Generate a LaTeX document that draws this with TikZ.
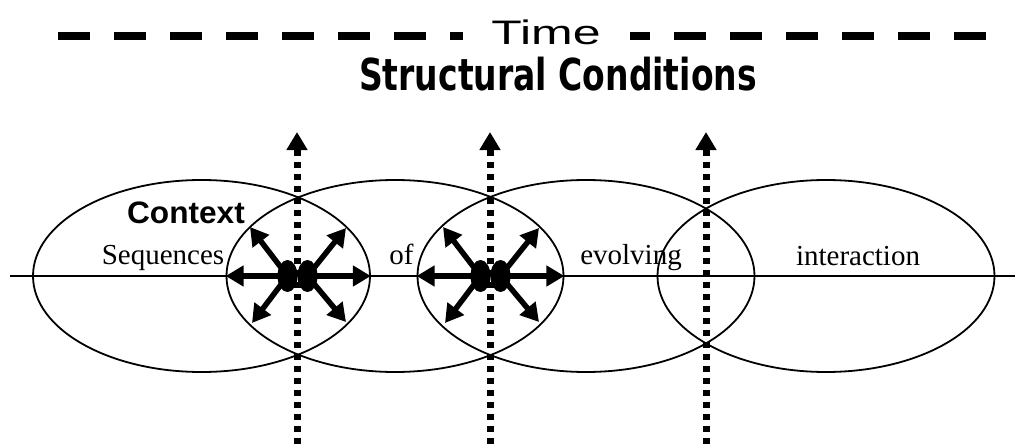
\documentclass[tikz,border=0pt]{standalone}
\usepackage{fontspec}
\usepackage{graphicx}
\setmainfont{Liberation Serif}
\newfontfamily\headfont{DejaVu Sans}
\newfontfamily\axisfont{Liberation Sans}
\usetikzlibrary{arrows.meta, shapes.geometric}

\begin{document}
\begin{tikzpicture}[x=1pt, y=-1pt,
  phase/.style={ellipse, draw, line width=1.8pt, minimum width=337pt,
                minimum height=192pt, inner sep=0pt},
  blob/.style={ellipse, fill, minimum width=20pt, minimum height=32pt, inner sep=0pt},
  push/.style={-{Triangle[length=18pt, width=20pt]}, line width=5.5pt},
  word/.style={font=\fontsize{29}{29}\selectfont, anchor=base, inner sep=0pt},
  timeline/.style={-{Triangle[length=18pt, width=20pt]}, line width=7pt,
                   dash pattern=on 6pt off 6pt}
]
  \useasboundingbox (0,0) rectangle (1015,444);

  % time axis and heading
  \coordinate (tstart) at (58,36);
  \coordinate (tend) at (987,36);
  \draw[line width=8pt, dash pattern=on 32pt off 24pt] (tstart) -- (tend);
  \node[fill=white, minimum width=167pt, minimum height=34pt, inner sep=0pt,
        font=\axisfont\fontsize{34}{34}\selectfont] (time) at (546,32)
        {\scalebox{1.47}[1]{Time}};
  \node[font=\headfont\bfseries\fontsize{44}{44}\selectfont, anchor=base,
        inner sep=0pt] (title) at (558,90) {\scalebox{0.75}[1]{Structural Conditions}};

  % phases
  \coordinate (lstart) at (10,276);
  \coordinate (lend) at (1015,276);
  \draw[line width=1.8pt] (lstart) -- (lend);
  \node[phase] (e1) at (201.5,276) {};
  \node[phase] (e2) at (395,276) {};
  \node[phase] (e3) at (586,276) {};
  \node[phase] (e4) at (826,276) {};

  \node[font=\axisfont\bfseries\fontsize{31}{31}\selectfont, anchor=base,
        inner sep=0pt] (context) at (186,223) {\scalebox{1.02}[1]{Context}};
  \node[word] (seq) at (163,264) {Sequences};
  \node[word] (of) at (401.5,264) {of};
  \node[word] (evol) at (631,264) {evolving};
  \node[word] (inter) at (858,265) {interaction};

  % first crossing
  \node[blob] (b1l) at (287.5,276) {};
  \node[blob] (b1r) at (307.5,276) {};
  \coordinate (ul1) at (250,227);
  \coordinate (ll1) at (252,323);
  \coordinate (ur1) at (346,228);
  \coordinate (lr1) at (346,322);
  \draw[push] (b1l.center) -- (e2.west);
  \draw[push] (b1l.center) -- (ul1);
  \draw[push] (b1l.center) -- (ll1);
  \draw[push] (b1r.center) -- (e1.east);
  \draw[push] (b1r.center) -- (ur1);
  \draw[push] (b1r.center) -- (lr1);

  % second crossing
  \node[blob] (b2l) at (480.5,276) {};
  \node[blob] (b2r) at (500.5,276) {};
  \coordinate (ul2) at (443,227);
  \coordinate (ll2) at (445,323);
  \coordinate (ur2) at (539,228);
  \coordinate (lr2) at (539,322);
  \draw[push] (b2l.center) -- (e3.west);
  \draw[push] (b2l.center) -- (ul2);
  \draw[push] (b2l.center) -- (ll2);
  \draw[push] (b2r.center) -- (e2.east);
  \draw[push] (b2r.center) -- (ur2);
  \draw[push] (b2r.center) -- (lr2);

  % structural cuts
  \foreach \x/\n in {297/1, 490/2, 706/3} {
    \coordinate (vb\n) at (\x,444);
    \coordinate (vt\n) at (\x,132);
    \draw[timeline] (vb\n) -- (vt\n);
  }
\end{tikzpicture}
\end{document}
